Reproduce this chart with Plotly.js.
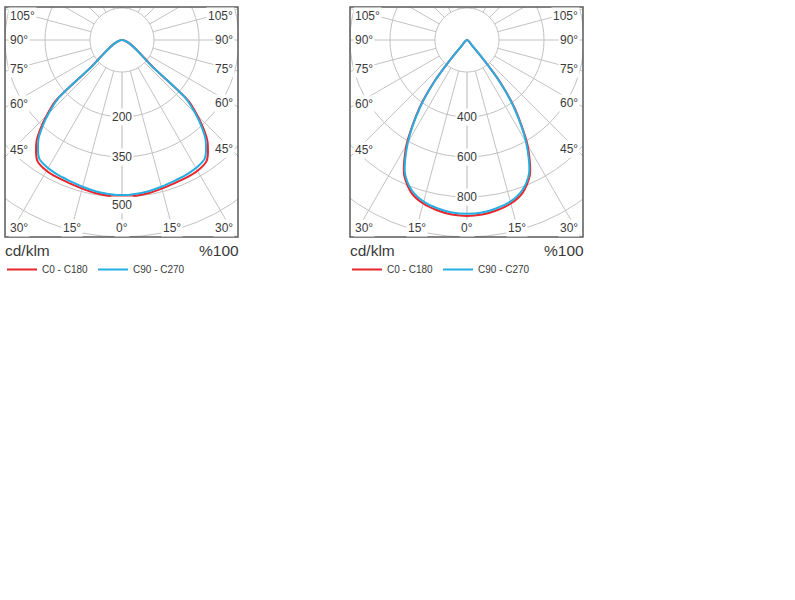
<!DOCTYPE html>
<html><head><meta charset="utf-8">
<script src="https://cdn.plot.ly/plotly-3.0.1.min.js"></script>
<style>
html,body{margin:0;padding:0;width:795px;height:600px;overflow:hidden;background:#fff;}
#chart{position:absolute;left:-110px;top:-200px;width:905px;height:800px;}
</style></head><body><div id="chart"></div>
<script>
// ---------------- data (cd/klm) ----------------
const anglesLeft  = [0,5,10,15,20,25,30,35,40,42.5,45,47.5,48.5,50,60,70,80,90];
const leftC0      = [500,498,495,490,486,484,481,470,424,385,338,287,140,0,0,0,0,0];
const leftC90     = [494,492,489,484,479,476,471,460,414,376,330,277,135,0,0,0,0,0];
const anglesRight = [0,5,10,15,20,25,30,35,38,40,42.5,45,50,60,70,80,90];
const rightC0     = [894,890,878,860,826,756,614,421,280,147,45,0,0,0,0,0,0];
const rightC90    = [883,880,868,850,815,746,601,411,272,142,43,0,0,0,0,0,0];
const seriesNames = ['C0 - C180','C90 - C270'];
const leftRadialLabels  = ['200','350','500'];
const rightRadialLabels = ['400','600','800'];
const bottomAngleTicks = [0,15,30];
const sideAngleTicks   = [45,60,75,90,105];
const unitLabel  = 'cd/klm';
const scaleLabel = '%100';

// ---------------- geometry / style ----------------
const OFF_X = 110, OFF_Y = 200, W = 905, H = 800;
const px = x => (x + OFF_X) / W;
const py = y => 1 - (y + OFF_Y) / H;
const R = 228;
const gridPx = [77,117,157,197];
const innerPx = 32;
const RED = '#e8262d', BLUE = '#27aee0', GRID = '#c2c2c2', TXT = '#3a3a3a';
const FONT = 'Liberation Sans, Arial, sans-serif';

const panels = [
  {id:'polar',  legend:'legend',  box:[5,7,238,237],   cx:122, cy:40, k:157/500,   angles:anglesLeft,  c0:leftC0,  c90:leftC90,  labels:leftRadialLabels},
  {id:'polar2', legend:'legend2', box:[350,7,583,237], cx:467, cy:40, k:157.5/800, angles:anglesRight, c0:rightC0, c90:rightC90, labels:rightRadialLabels}
];

// mirror one half (0..90°) onto the other side, from the origin round to the origin
function mirror(angles, vals){
  const th = [], r = [];
  const last = vals.findIndex(v => v === 0);
  for (let i = last; i > 0; i--) { th.push(-angles[i]); r.push(vals[i]); }
  for (let i = 0; i <= last; i++) { th.push(angles[i]); r.push(vals[i]); }
  return {th, r};
}

const traces = [];
const layout = {
  width: W, height: H, autosize: false,
  margin: {l:0, r:0, t:0, b:0, pad:0},
  paper_bgcolor: '#fff',
  font: {family: FONT, color: TXT},
  hovermode: false,
  shapes: [], annotations: []
};

panels.forEach(p => {
  const dTh = [], dR = [];
  for (let a = 0; a <= 360; a += 5) { dTh.push(a); dR.push(innerPx / p.k); }
  traces.push({type:'scatterpolar', subplot:p.id, theta:dTh, r:dR, mode:'lines',
    fill:'toself', fillcolor:'#fff', line:{color:GRID, width:1}, showlegend:false, hoverinfo:'skip'});
  const m0 = mirror(p.angles, p.c0), m90 = mirror(p.angles, p.c90);
  traces.push({type:'scatterpolar', subplot:p.id, legend:p.legend, name:seriesNames[0],
    theta:m0.th, r:m0.r, mode:'lines', line:{color:RED, width:2, shape:'spline', smoothing:0.8}});
  traces.push({type:'scatterpolar', subplot:p.id, legend:p.legend, name:seriesNames[1],
    theta:m90.th, r:m90.r, mode:'lines', line:{color:BLUE, width:2, shape:'spline', smoothing:0.8}});

  layout[p.id] = {
    domain: {x:[px(p.cx - R), px(p.cx + R)], y:[py(p.cy + R), py(p.cy - R)]},
    bgcolor: 'rgba(0,0,0,0)',
    angularaxis: {rotation:-90, direction:'counterclockwise', tickmode:'linear', tick0:0, dtick:15,
      showticklabels:false, ticks:'', showline:false, gridcolor:GRID, gridwidth:1, layer:'below traces'},
    radialaxis: {range:[0, R / p.k], tickmode:'array', tickvals:gridPx.map(g => g / p.k),
      showticklabels:false, ticks:'', showline:true, linecolor:'#dadada', linewidth:2, angle:270,
      gridcolor:GRID, gridwidth:1, layer:'below traces'}
  };

  const [x0,y0,x1,y1] = p.box;
  layout[p.legend] = {orientation:'h', x:px(x0 - 3), y:py(255), xanchor:'left', yanchor:'top',
    font:{size:10, color:TXT, family:FONT}, bgcolor:'rgba(0,0,0,0)', borderwidth:0, itemwidth:30};

  const ann = (x, y, text, xa, size) => layout.annotations.push({xref:'paper', yref:'paper',
    x:px(x), y:py(y), text, showarrow:false, xanchor:xa, yanchor:'middle',
    font:{size:size || 12, color:TXT, family:FONT}, bgcolor: size ? 'rgba(0,0,0,0)' : '#fff', borderpad:1});
  bottomAngleTicks.forEach(a => {
    [-1, 1].forEach(s => {
      if (a === 0 && s === 1) return;
      let x = p.cx + s * (y1 - 9 - p.cy) * Math.tan(a * Math.PI / 180);
      x = Math.min(Math.max(x, x0 + 14), x1 - 14);
      ann(x, y1 - 9, a + '°', 'center');
    });
  });
  sideAngleTicks.forEach(a => {
    [-1, 1].forEach(s => {
      const dx = (s < 0 ? p.cx - x0 : x1 - p.cx) - 7;
      let y = p.cy + dx / Math.tan(a * Math.PI / 180);
      y = Math.min(Math.max(y, y0 + 9), y1 - 9);
      ann(s < 0 ? x0 + 3 : x1 - 3, y, a + '°', s < 0 ? 'left' : 'right');
    });
  });
  const curveBottom = Math.max(p.c0[0], p.c90[0]) * p.k;
  p.labels.forEach((t, i) => {
    let y = p.cy + gridPx[i];
    if (Math.abs(gridPx[i] - curveBottom) < 6) y += 8;
    ann(p.cx, y, t, 'center');
  });
  ann(x0 - 2, 250, unitLabel, 'left', 15.5);
  ann(x1 + 3, 250, scaleLabel, 'right', 15.5);
});

const wFill = (a, b, c, d) => layout.shapes.push({type:'rect', xref:'paper', yref:'paper', layer:'above',
  x0:px(a), x1:px(c), y0:py(d), y1:py(b), fillcolor:'#fff', line:{width:0}});
const L = panels[0].box, Rb = panels[1].box;
wFill(-OFF_X, -OFF_Y, 795, L[1]);
wFill(-OFF_X, L[3], 795, 600);
wFill(-OFF_X, L[1], L[0], L[3]);
wFill(L[2], L[1], Rb[0], L[3]);
wFill(Rb[2], L[1], 795, L[3]);
panels.forEach(p => layout.shapes.push({type:'rect', xref:'paper', yref:'paper', layer:'above',
  x0:px(p.box[0]), x1:px(p.box[2]), y0:py(p.box[3]), y1:py(p.box[1]),
  fillcolor:'rgba(0,0,0,0)', line:{color:'#5a5a5a', width:1.5}}));

Plotly.newPlot('chart', traces, layout, {staticPlot:true, displayModeBar:false});
</script></body></html>
